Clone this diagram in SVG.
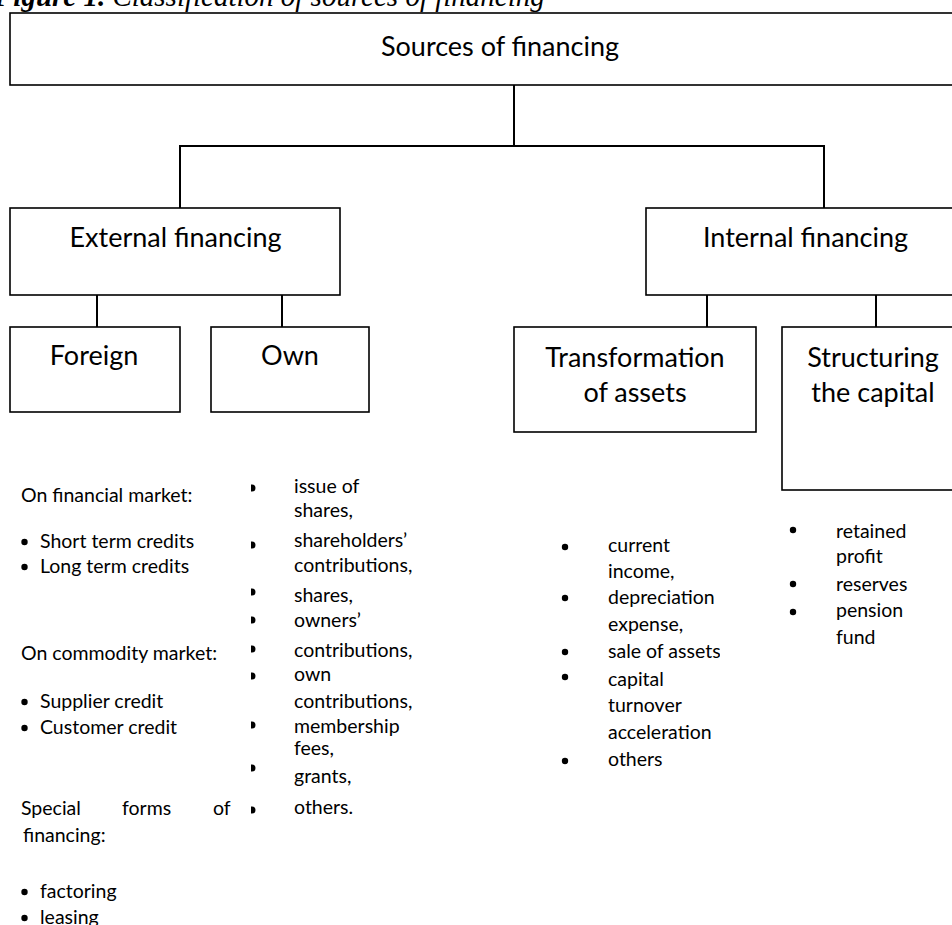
<svg xmlns="http://www.w3.org/2000/svg" width="952" height="925" viewBox="0 0 952 925">
<style>
.box{fill:#fff;stroke:#000;stroke-width:1.6}
.con{fill:none;stroke:#000;stroke-width:2}
.big{font-family:Lato,"Open Sans",sans-serif;font-size:27px;fill:#000;text-anchor:middle}
.sm{font-family:Lato,"Open Sans",sans-serif;font-size:19.5px;fill:#000}
.cap{font-family:"Liberation Serif",serif;font-style:italic;font-size:29px;fill:#000}
.dot{fill:#000}
</style>
<defs>
<path id="hb" d="M0,-3.5 L1,-3.5 A3.5,3.5 0 0 1 1,3.5 L0,3.5 Z"/>
<clipPath id="clipSale"><rect x="0" y="0" width="720" height="925"/></clipPath>
</defs>
<rect width="952" height="925" fill="#fff"/>
<text class="cap" x="-6" y="5.5"><tspan font-weight="bold">Figure 1.</tspan> Classification of sources of financing</text>

<g id="connectors">
<path class="con" d="M514,85 V146 M180,208 V146 H824 V208"/>
<path class="con" d="M97,295 V327 M282,295 V327"/>
<path class="con" d="M707,295 V327 M876,295 V327"/>
</g>

<g id="sources">
<rect class="box" x="10" y="13" width="960" height="72"/>
<text class="big" x="500" y="56">Sources of financing</text>
</g>
<g id="external">
<rect class="box" x="10" y="208" width="330" height="87"/>
<text class="big" x="175.5" y="247">External financing</text>
</g>
<g id="internal">
<rect class="box" x="646" y="208" width="320" height="87"/>
<text class="big" x="805.5" y="247">Internal financing</text>
</g>
<g id="foreign">
<rect class="box" x="10" y="327" width="170" height="85"/>
<text class="big" x="94" y="365">Foreign</text>
</g>
<g id="own">
<rect class="box" x="211" y="327" width="158" height="85"/>
<text class="big" x="290" y="365">Own</text>
</g>
<g id="transformation">
<rect class="box" x="514" y="327" width="242" height="105"/>
<text class="big" x="635" y="367">Transformation</text>
<text class="big" x="635" y="402">of assets</text>
</g>
<g id="structuring">
<rect class="box" x="782" y="327" width="190" height="163"/>
<text class="big" x="873" y="367">Structuring</text>
<text class="big" x="873" y="402">the capital</text>
</g>

<g id="foreign-list">
<text class="sm" x="21" y="502">On financial market:</text>
<circle class="dot" cx="24.5" cy="542" r="3.2"/><text class="sm" x="40" y="548">Short term credits</text>
<circle class="dot" cx="24.5" cy="567" r="3.2"/><text class="sm" x="40" y="573">Long term credits</text>
<text class="sm" x="21" y="660">On commodity market:</text>
<circle class="dot" cx="24.5" cy="702" r="3.2"/><text class="sm" x="40" y="708">Supplier credit</text>
<circle class="dot" cx="24.5" cy="728" r="3.2"/><text class="sm" x="40" y="734">Customer credit</text>
<text class="sm" y="815"><tspan x="21">Special</tspan><tspan x="122">forms</tspan><tspan x="213">of</tspan></text>
<text class="sm" x="23" y="842">financing:</text>
<circle class="dot" cx="24.5" cy="892" r="3.2"/><text class="sm" x="40" y="898">factoring</text>
<circle class="dot" cx="24.5" cy="918" r="3.2"/><text class="sm" x="40" y="924">leasing</text>
</g>

<g id="own-list">
<use href="#hb" x="251" y="488"/>
<use href="#hb" x="251" y="545"/>
<use href="#hb" x="251" y="592"/>
<use href="#hb" x="251" y="620"/>
<use href="#hb" x="251" y="649"/>
<use href="#hb" x="251" y="676"/>
<use href="#hb" x="251" y="725"/>
<use href="#hb" x="251" y="768"/>
<use href="#hb" x="251" y="810"/>
<text class="sm" x="294" y="493">issue of</text>
<text class="sm" x="294" y="517">shares,</text>
<text class="sm" x="294" y="547">shareholders’</text>
<text class="sm" x="294" y="572">contributions,</text>
<text class="sm" x="294" y="602">shares,</text>
<text class="sm" x="294" y="627">owners’</text>
<text class="sm" x="294" y="657">contributions,</text>
<text class="sm" x="294" y="681">own</text>
<text class="sm" x="294" y="708">contributions,</text>
<text class="sm" x="294" y="733">membership</text>
<text class="sm" x="294" y="755">fees,</text>
<text class="sm" x="294" y="783">grants,</text>
<text class="sm" x="294" y="814">others.</text>
</g>

<g id="transformation-list">
<circle class="dot" cx="565" cy="547" r="3.2"/><text class="sm" x="608" y="552">current</text>
<text class="sm" x="608" y="578">income,</text>
<circle class="dot" cx="565" cy="598" r="3.2"/><text class="sm" x="608" y="604">depreciation</text>
<text class="sm" x="608" y="631">expense,</text>
<circle class="dot" cx="565" cy="652" r="3.2"/><text class="sm" x="608" y="658" clip-path="url(#clipSale)">sale of assets</text>
<circle class="dot" cx="565" cy="677" r="3.2"/><text class="sm" x="608" y="686">capital</text>
<text class="sm" x="608" y="712">turnover</text>
<text class="sm" x="608" y="739">acceleration</text>
<circle class="dot" cx="565" cy="761" r="3.2"/><text class="sm" x="608" y="766">others</text>
</g>

<g id="structuring-list">
<circle class="dot" cx="793" cy="530" r="3.2"/><text class="sm" x="836" y="538">retained</text>
<text class="sm" x="836" y="563">profit</text>
<circle class="dot" cx="793" cy="584" r="3.2"/><text class="sm" x="836" y="591">reserves</text>
<circle class="dot" cx="793" cy="612" r="3.2"/><text class="sm" x="836" y="617">pension</text>
<text class="sm" x="836" y="644">fund</text>
</g>
</svg>
